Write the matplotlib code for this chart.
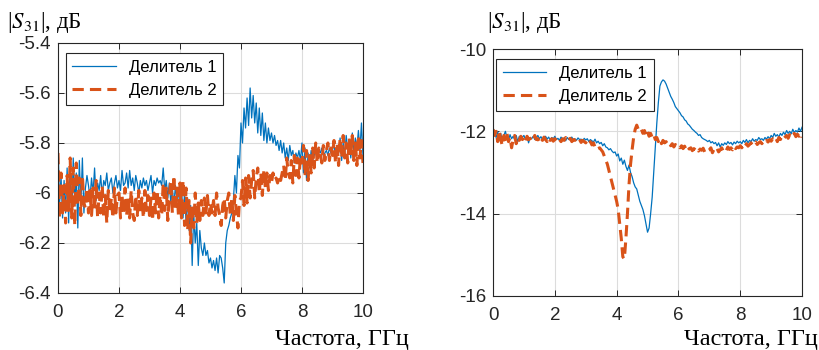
import numpy as np
import matplotlib.pyplot as plt

# частота, ГГц (шаг 0.05)
freq = np.linspace(0, 10, 201)

# |S31|, дБ — левый график
s31_left_1 = [
    -5.78, -6.05, -5.93, -6.10, -5.95, -6.08, -5.90, -6.12, -5.88, -6.10, -5.86, -6.05, -5.92, -6.14, -5.87, -6.05, -5.86, -6.08, -5.98, -5.93,
    -5.97, -6.02, -5.94, -6.00, -5.90, -6.03, -5.96, -5.99, -5.93, -6.01, -5.95, -5.97, -5.92, -5.99, -5.96, -5.94, -6.00, -5.96, -5.93, -5.98,
    -5.95, -5.99, -5.91, -5.97, -5.96, -5.92, -5.98, -5.91, -5.97, -5.94, -5.99, -5.93, -5.96, -6.00, -5.95, -5.98, -5.94, -5.97, -5.95, -5.99,
    -5.96, -5.93, -6.00, -5.95, -5.97, -5.94, -5.96, -5.95, -5.97, -5.90, -5.99, -5.95, -6.02, -5.96, -6.04, -5.98, -6.05, -5.97, -6.03, -5.99,
    -6.07, -5.98, -6.10, -6.00, -6.12, -6.02, -6.15, -6.05, -6.29, -6.08, -6.20, -6.12, -6.29, -6.15, -6.22, -6.25, -6.20, -6.25, -6.23, -6.28,
    -6.26, -6.30, -6.27, -6.31, -6.26, -6.32, -6.25, -6.26, -6.30, -6.36, -6.20, -6.15, -6.13, -6.10, -6.08, -6.03, -5.93, -6.00, -5.85, -5.90,
    -5.72, -5.80, -5.66, -5.74, -5.62, -5.73, -5.58, -5.70, -5.61, -5.72, -5.64, -5.76, -5.66, -5.77, -5.68, -5.79, -5.72, -5.80, -5.74, -5.79,
    -5.76, -5.80, -5.77, -5.81, -5.79, -5.83, -5.79, -5.84, -5.80, -5.86, -5.82, -5.87, -5.81, -5.85, -5.83, -5.88, -5.84, -5.86, -5.83, -5.87,
    -5.80, -5.92, -5.82, -5.95, -5.84, -5.90, -5.83, -5.87, -5.85, -5.82, -5.86, -5.83, -5.84, -5.82, -5.85, -5.84, -5.83, -5.85, -5.82, -5.84,
    -5.83, -5.80, -5.86, -5.81, -5.84, -5.78, -5.87, -5.80, -5.85, -5.77, -5.83, -5.79, -5.86, -5.76, -5.84, -5.78, -5.82, -5.75, -5.83, -5.72,
    -5.85,
]
s31_left_2 = [
    -5.84, -6.10, -5.92, -6.08, -5.97, -6.12, -5.93, -6.07, -5.86, -6.10, -5.90, -6.13, -5.88, -6.05, -5.94, -6.09, -5.93, -6.04, -6.06, -5.98,
    -6.08, -5.99, -6.09, -5.98, -6.07, -5.95, -6.10, -6.00, -6.08, -5.97, -6.10, -6.01, -6.12, -5.99, -6.08, -6.02, -6.10, -5.98, -6.08, -6.01,
    -6.00, -6.10, -6.01, -6.08, -5.98, -6.09, -6.02, -6.10, -5.99, -6.08, -6.11, -6.01, -6.09, -5.99, -6.08, -6.02, -6.10, -5.99, -6.07, -6.01,
    -6.09, -6.02, -6.11, -6.00, -6.08, -5.99, -6.10, -6.01, -6.09, -5.96, -6.07, -5.98, -6.11, -6.01, -5.95, -6.08, -5.93, -6.07, -5.98, -6.09,
    -5.96, -6.10, -5.95, -6.13, -5.98, -6.15, -6.03, -6.20, -6.06, -6.14, -6.00, -6.12, -6.04, -6.11, -6.03, -6.09, -6.02, -6.08, -6.01, -6.09,
    -6.04, -6.08, -6.03, -6.09, -6.00, -6.06, -6.09, -6.13, -6.05, -6.02, -6.10, -6.03, -6.00, -6.09, -6.02, -6.11, -6.01, -6.08, -6.14, -6.03,
    -6.02, -5.95, -6.05, -5.94, -6.04, -5.93, -6.02, -5.95, -5.91, -6.02, -5.94, -5.90, -6.00, -5.92, -6.01, -5.91, -5.98, -5.92, -5.99, -5.93,
    -5.96, -5.92, -5.95, -5.94, -5.96, -5.93, -5.95, -5.92, -5.89, -5.95, -5.86, -5.92, -5.94, -5.87, -5.96, -5.85, -5.93, -5.86, -5.94, -5.85,
    -5.88, -5.81, -5.93, -5.83, -5.95, -5.85, -5.92, -5.82, -5.90, -5.80, -5.88, -5.82, -5.84, -5.88, -5.81, -5.87, -5.83, -5.80, -5.87, -5.82,
    -5.85, -5.79, -5.88, -5.80, -5.89, -5.78, -5.86, -5.77, -5.86, -5.80, -5.88, -5.78, -5.85, -5.77, -5.87, -5.79, -5.89, -5.77, -5.86, -5.79,
    -5.88,
]

# |S31|, дБ — правый график
s31_right_1 = [
    -11.90, -12.05, -12.15, -12.00, -12.20, -12.05, -12.25, -12.10, -12.00, -12.15, -12.22, -12.08, -12.18, -12.12, -12.20, -12.10, -12.25, -12.12, -12.18, -12.14,
    -12.10, -12.20, -12.12, -12.28, -12.15, -12.18, -12.12, -12.20, -12.15, -12.10, -12.18, -12.13, -12.20, -12.16, -12.12, -12.19, -12.14, -12.21, -12.15, -12.18,
    -12.12, -12.20, -12.17, -12.22, -12.14, -12.19, -12.16, -12.23, -12.15, -12.20, -12.17, -12.14, -12.21, -12.18, -12.22, -12.16, -12.20, -12.19, -12.24, -12.17,
    -12.21, -12.18, -12.25, -12.20, -12.23, -12.26, -12.19, -12.28, -12.24, -12.30, -12.27, -12.35, -12.30, -12.38, -12.40, -12.45, -12.42, -12.48, -12.52, -12.50,
    -12.60, -12.55, -12.72, -12.65, -12.80, -12.70, -12.85, -12.95, -12.82, -13.00, -13.10, -13.25, -13.35, -13.40, -13.55, -13.70, -13.80, -13.90, -14.05, -14.25,
    -14.45, -14.35, -14.00, -13.60, -13.00, -12.40, -11.80, -11.30, -10.90, -10.80, -10.75, -10.78, -10.85, -10.95, -11.05, -11.15, -11.22, -11.30, -11.40, -11.45,
    -11.50, -11.55, -11.62, -11.65, -11.72, -11.75, -11.82, -11.85, -11.90, -11.95, -11.98, -12.02, -12.05, -12.10, -12.08, -12.15, -12.18, -12.20, -12.22, -12.25,
    -12.22, -12.28, -12.25, -12.30, -12.27, -12.35, -12.28, -12.38, -12.30, -12.34, -12.28, -12.32, -12.25, -12.30, -12.27, -12.33, -12.26, -12.30, -12.24, -12.28,
    -12.25, -12.30, -12.22, -12.27, -12.20, -12.28, -12.22, -12.25, -12.18, -12.24, -12.20, -12.22, -12.15, -12.20, -12.18, -12.22, -12.15, -12.19, -12.13, -12.18,
    -12.10, -12.15, -12.05, -12.12, -12.08, -12.14, -12.05, -12.10, -12.02, -12.08, -11.98, -12.05, -12.00, -12.06, -11.95, -12.03, -11.98, -12.02, -11.92, -12.00,
    -11.90,
]
s31_right_2 = [
    -11.95, -12.10, -12.00, -12.25, -11.98, -12.20, -12.35, -12.10, -12.20, -12.05, -12.25, -12.15, -12.40, -12.20, -12.10, -12.30, -12.15, -12.22, -12.12, -12.20,
    -12.15, -12.25, -12.12, -12.20, -12.18, -12.15, -12.22, -12.10, -12.20, -12.18, -12.25, -12.16, -12.22, -12.14, -12.20, -12.25, -12.15, -12.22, -12.18, -12.24,
    -12.18, -12.22, -12.15, -12.20, -12.25, -12.18, -12.22, -12.15, -12.24, -12.20, -12.17, -12.25, -12.20, -12.22, -12.18, -12.24, -12.20, -12.27, -12.22, -12.25,
    -12.28, -12.22, -12.30, -12.25, -12.33, -12.28, -12.38, -12.35, -12.42, -12.40, -12.45, -12.50, -12.60, -12.70, -12.80, -12.95, -13.10, -13.25, -13.40, -13.55,
    -13.70, -13.90, -14.25, -14.60, -15.05, -15.10, -14.60, -14.00, -13.30, -12.80, -12.45, -12.15, -11.95, -11.85, -11.95, -11.90, -11.95, -12.05, -11.98, -12.10,
    -12.00, -12.12, -12.05, -12.15, -12.08, -12.20, -12.15, -12.25, -12.18, -12.30, -12.22, -12.28, -12.25, -12.32, -12.28, -12.35, -12.30, -12.38, -12.32, -12.36,
    -12.33, -12.40, -12.35, -12.42, -12.36, -12.45, -12.38, -12.43, -12.40, -12.47, -12.42, -12.45, -12.40, -12.48, -12.43, -12.46, -12.41, -12.50, -12.44, -12.47,
    -12.45, -12.40, -12.52, -12.44, -12.48, -12.42, -12.50, -12.45, -12.40, -12.48, -12.42, -12.46, -12.38, -12.44, -12.40, -12.45, -12.36, -12.42, -12.38, -12.40,
    -12.35, -12.40, -12.33, -12.38, -12.30, -12.36, -12.32, -12.28, -12.35, -12.30, -12.26, -12.32, -12.28, -12.25, -12.30, -12.24, -12.28, -12.22, -12.26, -12.20,
    -12.24, -12.18, -12.22, -12.16, -12.25, -12.15, -12.20, -12.12, -12.18, -12.14, -12.10, -12.17, -12.08, -12.15, -12.10, -12.05, -12.13, -12.07, -12.12, -12.05,
    -12.15,
]

labels = ['Делитель 1', 'Делитель 2']
blue = '#0072BD'
orange = '#D95319'
dark = '#262626'

plt.rcParams['font.family'] = ['Liberation Sans', 'DejaVu Sans']
plt.rcParams['mathtext.fontset'] = 'stix'

fig = plt.figure(figsize=(8.19, 3.5), dpi=100)
ax1 = fig.add_axes([0.0708, 0.1629, 0.3724, 0.7143])
ax2 = fig.add_axes([0.6020, 0.1543, 0.3773, 0.7057])


def setup(ax, ylim, yticks, ytl):
    ax.set_xlim(0, 10)
    ax.set_ylim(*ylim)
    ax.set_xticks([0, 2, 4, 6, 8, 10])
    ax.set_yticks(yticks)
    ax.set_yticklabels(ytl)
    ax.grid(True, color='#dcdcdc', lw=0.8)
    ax.set_axisbelow(True)
    ax.tick_params(direction='in', top=True, right=True, length=4,
                   labelsize=13.5, colors=dark, width=0.7)
    ax.tick_params(axis='x', pad=8)
    ax.tick_params(axis='y', pad=5)
    for s in ax.spines.values():
        s.set_color(dark)
        s.set_linewidth(0.8)


# левый
ax1.plot(freq, s31_left_1, color=blue, lw=0.9, label=labels[0])
ax1.plot(freq, s31_left_2, color=orange, lw=2.2, dashes=(3.7, 2.0), label=labels[1])
setup(ax1, (-6.4, -5.4), [-6.4, -6.2, -6.0, -5.8, -5.6, -5.4],
      ['-6.4', '-6.2', '-6', '-5.8', '-5.6', '-5.4'])
leg = ax1.legend(loc='upper left', bbox_to_anchor=(0.025, 0.96), fontsize=12,
                 fancybox=False, framealpha=1, edgecolor=dark, borderaxespad=0,
                 handlelength=2.6)
leg.get_frame().set_linewidth(0.8)

# правый
ax2.plot(freq, s31_right_1, color=blue, lw=0.9, label=labels[0])
ax2.plot(freq, s31_right_2, color=orange, lw=2.2, dashes=(3.7, 2.0), label=labels[1])
setup(ax2, (-16, -10), [-16, -14, -12, -10], ['-16', '-14', '-12', '-10'])
leg = ax2.legend(loc='upper left', bbox_to_anchor=(0.01, 0.96), fontsize=12,
                 fancybox=False, framealpha=1, edgecolor=dark, borderaxespad=0,
                 handlelength=2.6)
leg.get_frame().set_linewidth(0.8)

# подписи осей
for x0, y0 in [(0.008, 0.935), (0.595, 0.935)]:
    fig.text(x0, y0, '|$S_{31}$|, дБ', family='Liberation Serif', fontsize=16.5,
             va='center', ha='left')
for x1 in [0.5, 1.0]:
    fig.text(x1 - 0.001, 0.03, 'Частота, ГГц', family='Liberation Serif',
             fontsize=17.5, va='center', ha='right')

fig.savefig('out.png', dpi=100)
